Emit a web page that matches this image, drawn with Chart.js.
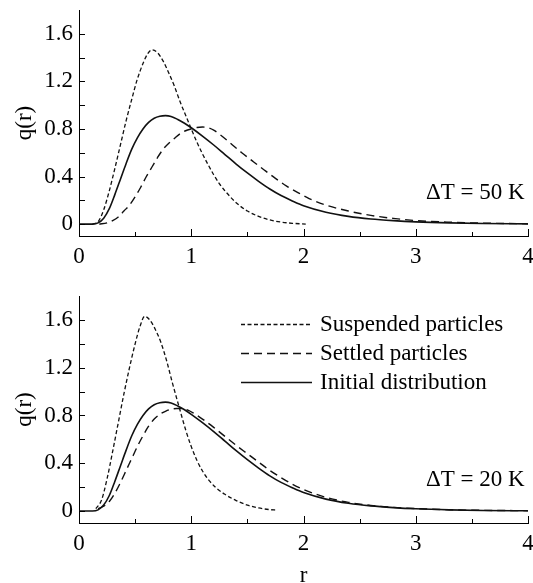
<!DOCTYPE html>
<html lang="en">
<head>
<meta charset="UTF-8">
<title>q(r) distributions</title>
<script src="https://cdn.jsdelivr.net/npm/chart.js@4.4.0/dist/chart.umd.min.js"></script>
<style>
  body { margin: 0; background: #fff; }
  #wrap { position: relative; width: 533px; height: 583px; overflow: hidden; }
  canvas { position: absolute; left: 0; }
</style>
</head>
<body>
<div id="wrap">
  <canvas id="chartTop" width="533" height="290" style="top:0"></canvas>
  <canvas id="chartBottom" width="533" height="300" style="top:290px"></canvas>
</div>
<script>
// tick positions
const xLabels = [0, 1, 2, 3, 4];
const xMarks = [0, 0.5, 1, 1.5, 2, 2.5, 3, 3.5, 4];
const yLabels = [0, 0.4, 0.8, 1.2, 1.6];
const yMarks = [0, 0.2, 0.4, 0.6, 0.8, 1.0, 1.2, 1.4, 1.6];

const seriesNames = ['Suspended particles', 'Settled particles', 'Initial distribution'];

// initial distribution (same curve in both panels)
const rInit = [0, 0.12, 0.17, 0.22, 0.27, 0.32, 0.37, 0.42, 0.47, 0.52, 0.57, 0.62, 0.67, 0.72, 0.77, 0.82, 0.88, 0.94, 1.0, 1.1, 1.2, 1.3, 1.4, 1.5, 1.6, 1.7, 1.8, 1.9, 2.0, 2.2, 2.4, 2.6, 2.8, 3.0, 3.3, 3.6, 4.0];
const qInit = [0, 0, 0.01, 0.05, 0.13, 0.25, 0.38, 0.51, 0.63, 0.725, 0.80, 0.855, 0.89, 0.907, 0.912, 0.905, 0.88, 0.848, 0.81, 0.74, 0.665, 0.585, 0.505, 0.43, 0.36, 0.295, 0.24, 0.195, 0.155, 0.10, 0.065, 0.043, 0.029, 0.019, 0.01, 0.005, 0.002];

// dT = 50 K
const r50Susp = [0.12, 0.17, 0.22, 0.27, 0.32, 0.37, 0.42, 0.47, 0.52, 0.57, 0.61, 0.65, 0.7, 0.75, 0.8, 0.85, 0.9, 0.95, 1.0, 1.05, 1.1, 1.15, 1.2, 1.25, 1.3, 1.4, 1.5, 1.6, 1.7, 1.8, 1.9, 2.02];
const q50Susp = [0, 0.02, 0.12, 0.28, 0.47, 0.67, 0.87, 1.05, 1.22, 1.35, 1.43, 1.465, 1.44, 1.37, 1.27, 1.16, 1.03, 0.915, 0.80, 0.69, 0.59, 0.50, 0.415, 0.34, 0.28, 0.18, 0.11, 0.065, 0.035, 0.017, 0.007, 0];
const r50Sett = [0.18, 0.25, 0.3, 0.35, 0.4, 0.45, 0.5, 0.55, 0.6, 0.65, 0.7, 0.75, 0.8, 0.85, 0.9, 0.95, 1.0, 1.05, 1.1, 1.15, 1.2, 1.26, 1.35, 1.45, 1.55, 1.65, 1.75, 1.85, 1.95, 2.05, 2.2, 2.4, 2.6, 2.8, 3.0, 3.3, 3.6, 4.0];
const q50Sett = [0, 0.01, 0.03, 0.06, 0.11, 0.16, 0.23, 0.31, 0.40, 0.48, 0.56, 0.63, 0.68, 0.72, 0.76, 0.785, 0.80, 0.812, 0.816, 0.81, 0.79, 0.75, 0.68, 0.60, 0.527, 0.455, 0.385, 0.32, 0.265, 0.215, 0.16, 0.11, 0.073, 0.048, 0.03, 0.016, 0.008, 0.003];

// dT = 20 K
const r20Susp = [0.15, 0.2, 0.25, 0.3, 0.35, 0.4, 0.45, 0.5, 0.545, 0.585, 0.63, 0.68, 0.73, 0.78, 0.83, 0.89, 0.95, 1.0, 1.05, 1.1, 1.16, 1.22, 1.3, 1.4, 1.5, 1.6, 1.7, 1.76];
const q20Susp = [0.02, 0.09, 0.27, 0.5, 0.74, 0.98, 1.2, 1.4, 1.55, 1.63, 1.60, 1.52, 1.41, 1.26, 1.08, 0.877, 0.68, 0.54, 0.425, 0.335, 0.255, 0.195, 0.14, 0.088, 0.05, 0.026, 0.012, 0.008];
const r20Sett = [0.17, 0.22, 0.27, 0.32, 0.37, 0.42, 0.47, 0.52, 0.57, 0.62, 0.67, 0.72, 0.77, 0.82, 0.87, 0.92, 0.97, 1.02, 1.1, 1.2, 1.3, 1.4, 1.5, 1.6, 1.7, 1.8, 1.9, 2.0, 2.2, 2.4, 2.6, 2.8, 3.0, 3.3, 3.6, 4.0];
const q20Sett = [0.02, 0.04, 0.08, 0.15, 0.24, 0.34, 0.44, 0.54, 0.63, 0.71, 0.77, 0.81, 0.835, 0.852, 0.858, 0.858, 0.845, 0.82, 0.77, 0.70, 0.625, 0.55, 0.48, 0.41, 0.34, 0.28, 0.225, 0.18, 0.115, 0.073, 0.047, 0.031, 0.021, 0.011, 0.006, 0.003];

const FONT = '"Liberation Serif", "Times New Roman", serif';
Chart.defaults.font.family = FONT;
Chart.defaults.font.size = 23;
Chart.defaults.color = '#000';

function pts(rs, qs) {
  return rs.map((r, i) => ({ x: r, y: qs[i] }));
}

function makeDatasets(susp, sett, init) {
  const base = { pointRadius: 0, fill: false, cubicInterpolationMode: 'monotone', borderColor: '#111' };
  return [
    Object.assign({}, base, { label: seriesNames[0], data: susp, borderWidth: 1.3, borderDash: [4, 2.5] }),
    Object.assign({}, base, { label: seriesNames[1], data: sett, borderWidth: 1.4, borderDash: [8, 5] }),
    Object.assign({}, base, { label: seriesNames[2], data: init, borderWidth: 1.6 })
  ];
}

// small tick marks pointing into the plot
const inwardTicks = {
  id: 'inwardTicks',
  afterDraw(chart) {
    const { ctx, chartArea: a, scales: { x, y } } = chart;
    ctx.save();
    ctx.strokeStyle = '#000';
    ctx.lineWidth = 1;
    ctx.beginPath();
    xMarks.forEach(v => {
      const px = Math.round(x.getPixelForValue(v)) + 0.5;
      const len = Number.isInteger(v) ? 7 : 4;
      ctx.moveTo(px, a.bottom);
      ctx.lineTo(px, a.bottom - len);
    });
    yMarks.forEach(v => {
      const py = Math.round(y.getPixelForValue(v)) + 0.5;
      ctx.moveTo(a.left, py);
      ctx.lineTo(a.left + 6, py);
    });
    ctx.stroke();
    ctx.restore();
  }
};

// panel note and the line legend
const panelText = {
  id: 'panelText',
  afterDraw(chart, args, opts) {
    const { ctx, scales: { x, y } } = chart;
    ctx.save();
    ctx.fillStyle = '#000';
    ctx.font = '23px ' + FONT;
    ctx.textBaseline = 'middle';
    ctx.textAlign = 'right';
    ctx.fillText(opts.note, x.getPixelForValue(3.97), y.getPixelForValue(0.26));
    if (opts.legend) {
      ctx.textAlign = 'left';
      chart.data.datasets.forEach((ds, i) => {
        const yy = Math.round(opts.legendY + i * 29.2) + 0.5;
        ctx.strokeStyle = ds.borderColor;
        ctx.lineWidth = ds.borderWidth;
        ctx.setLineDash(ds.borderDash || []);
        ctx.beginPath();
        ctx.moveTo(241, yy);
        ctx.lineTo(312, yy);
        ctx.stroke();
        ctx.setLineDash([]);
        ctx.fillText(ds.label, 320, yy);
      });
    }
    ctx.restore();
  }
};

function makeChart(id, datasets, note, showLegend, xHeight, topPad) {
  return new Chart(document.getElementById(id), {
    type: 'line',
    data: { datasets: datasets },
    plugins: [inwardTicks, panelText],
    options: {
      responsive: false,
      animation: false,
      layout: { padding: { left: 0, right: 5, top: topPad, bottom: 0 } },
      plugins: {
        legend: { display: false },
        tooltip: { enabled: false },
        panelText: { note: note, legend: showLegend, legendY: 33.5 }
      },
      scales: {
        x: {
          type: 'linear',
          min: 0,
          max: 4,
          afterBuildTicks: s => { s.ticks = xLabels.map(v => ({ value: v })); },
          afterFit: s => { s.height = xHeight; s.paddingLeft = 0; s.paddingRight = 0; },
          grid: { display: false, drawTicks: false },
          border: { display: true, color: '#000', width: 1 },
          ticks: { padding: 7, maxRotation: 0, callback: v => String(v) },
          title: { display: showLegend, text: 'r', padding: { top: 0, bottom: 0 } }
        },
        y: {
          min: -0.1,
          max: 1.8,
          afterBuildTicks: s => { s.ticks = yLabels.map(v => ({ value: v })); },
          afterFit: s => { s.width = 79; s.paddingTop = 0; s.paddingBottom = 0; },
          grid: { display: false, drawTicks: false },
          border: { display: true, color: '#000', width: 1 },
          ticks: { padding: 6, callback: v => (v === 0 ? '0' : v.toFixed(1)) },
          title: { display: true, text: 'q(r)', padding: { top: 11, bottom: 0 } }
        }
      }
    }
  });
}

makeChart('chartTop', makeDatasets(pts(r50Susp, q50Susp), pts(r50Sett, q50Sett), pts(rInit, qInit)), '\u0394T = 50 K', false, 54, 10);
makeChart('chartBottom', makeDatasets(pts(r20Susp, q20Susp), pts(r20Sett, q20Sett), pts(rInit, qInit)), '\u0394T = 20 K', true, 67, 6);
</script>
</body>
</html>
